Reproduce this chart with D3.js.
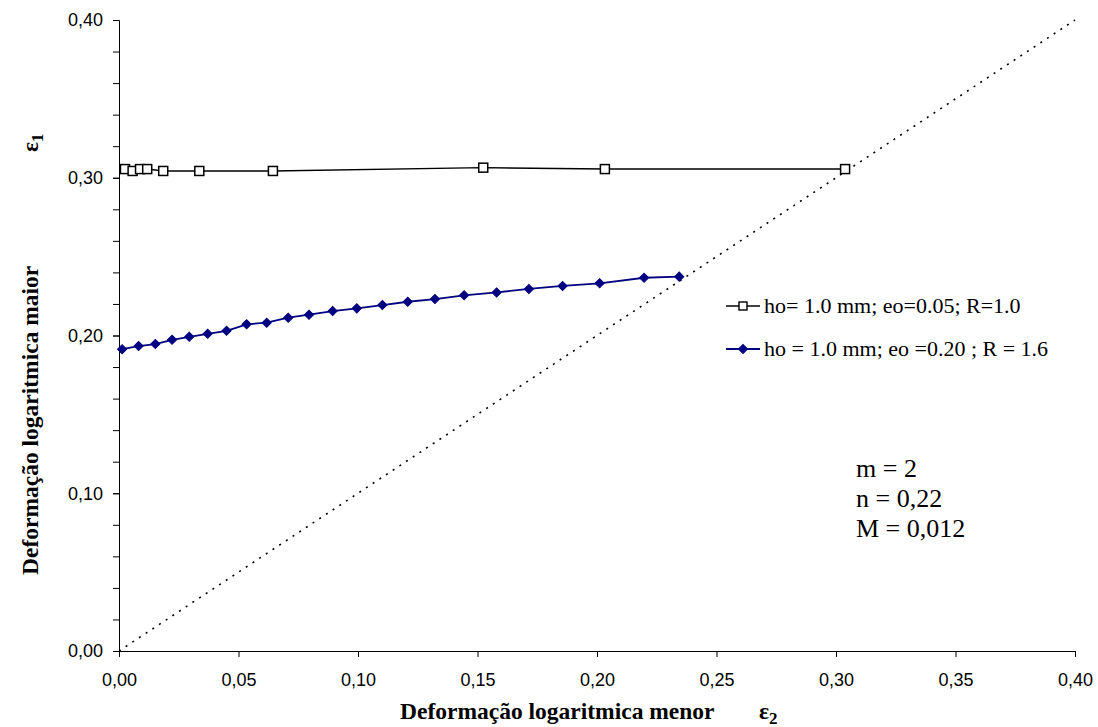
<!DOCTYPE html>
<html>
<head>
<meta charset="utf-8">
<script src="https://cdn.jsdelivr.net/npm/d3@7"></script>
<style>
  body { margin: 0; background: #fff; }
  svg { display: block; }
</style>
</head>
<body>
<svg id="chart" width="1098" height="727"></svg>
<script>
// Series 1: open squares (ho= 1.0 mm; eo=0.05; R=1.0)
const sqX = [0.0025, 0.0057, 0.0088, 0.0118, 0.0185, 0.0336, 0.0644, 0.1524, 0.2033, 0.3038];
const sqY = [0.3055, 0.3043, 0.3055, 0.3055, 0.3043, 0.3043, 0.3043, 0.3064, 0.3055, 0.3055];
// Series 2: filled diamonds (ho = 1.0 mm; eo =0.20 ; R = 1.6)
const dmX = [0.0013, 0.0082, 0.0152, 0.0222, 0.0294, 0.0371, 0.0450, 0.0534, 0.0618, 0.0708, 0.0795, 0.0894,
             0.0995, 0.1102, 0.1208, 0.1322, 0.1444, 0.1580, 0.1715, 0.1856, 0.2011, 0.2197, 0.2344];
const dmY = [0.1913, 0.1933, 0.1946, 0.1973, 0.1992, 0.2011, 0.2030, 0.2071, 0.2081, 0.2113, 0.2132, 0.2155,
             0.2172, 0.2193, 0.2214, 0.2231, 0.2255, 0.2273, 0.2295, 0.2314, 0.2331, 0.2366, 0.2373];
const diagX = [0, 0.40];
const diagY = [0, 0.40];
const xTicks = [0, 0.05, 0.10, 0.15, 0.20, 0.25, 0.30, 0.35, 0.40];
const yTicksMajor = [0, 0.10, 0.20, 0.30, 0.40];
const yTicksMinor = [0, 0.02, 0.04, 0.06, 0.08, 0.10, 0.12, 0.14, 0.16, 0.18, 0.20, 0.22, 0.24, 0.26, 0.28, 0.30, 0.32, 0.34, 0.36, 0.38, 0.40];
const legendLabels = ["ho= 1.0 mm; eo=0.05; R=1.0", "ho = 1.0 mm; eo =0.20 ; R = 1.6"];
const notes = ["m = 2", "n = 0,22", "M = 0,012"];

const svg = d3.select("#chart");
const x = d3.scaleLinear().domain([0, 0.40]).range([119, 1075]);
const y = d3.scaleLinear().domain([0, 0.40]).range([651, 20]);
const fmt = d => d3.format(".2f")(d).replace(".", ",");
const SANS = "Liberation Sans, Arial, sans-serif";
const SERIF = "Liberation Serif, Times New Roman, serif";

// X axis
const gx = svg.append("g").attr("transform", `translate(0,${y(0)})`)
  .call(d3.axisBottom(x).tickValues(xTicks).tickFormat(fmt).tickSizeOuter(0).tickSize(6).tickPadding(16));
gx.attr("font-size", null).attr("font-family", null);
gx.selectAll("text").style("font-family", SANS).style("font-size", "18px").attr("fill", "#000");
gx.selectAll("line, path").attr("stroke", "#000");

// Y axis minor
const gym = svg.append("g").attr("transform", `translate(${x(0)},0)`)
  .call(d3.axisLeft(y).tickValues(yTicksMinor).tickFormat("").tickSizeOuter(0).tickSize(6));
gym.selectAll("line, path").attr("stroke", "#000");
// Y axis major labels
const gy = svg.append("g").attr("transform", `translate(${x(0)},0)`)
  .call(d3.axisLeft(y).tickValues(yTicksMajor).tickFormat(fmt).tickSizeOuter(0).tickSize(6).tickPadding(10));
gy.attr("font-size", null).attr("font-family", null);
gy.select("path").remove();
gy.selectAll("line").attr("stroke", "#000");
gy.selectAll("text").style("font-family", SANS).style("font-size", "18px").attr("fill", "#000");

// Diagonal dotted
svg.append("line")
  .attr("x1", x(diagX[0])).attr("y1", y(diagY[0]))
  .attr("x2", x(diagX[1])).attr("y2", y(diagY[1]))
  .attr("stroke", "#000").attr("stroke-width", 1.6).attr("stroke-dasharray", "2,6");

const line = d3.line().x(d => x(d[0])).y(d => y(d[1]));
const sq = sqX.map((v, i) => [v, sqY[i]]);
const dm = dmX.map((v, i) => [v, dmY[i]]);

svg.append("path").datum(sq).attr("d", line).attr("fill", "none").attr("stroke", "#000").attr("stroke-width", 1.4);
svg.append("path").datum(dm).attr("d", line).attr("fill", "none").attr("stroke", "#000080").attr("stroke-width", 1.8);

const sqSize = 9;
svg.append("g").selectAll("rect").data(sq).join("rect")
  .attr("x", d => x(d[0]) - sqSize / 2).attr("y", d => y(d[1]) - sqSize / 2)
  .attr("width", sqSize).attr("height", sqSize)
  .attr("fill", "#fff").attr("stroke", "#000").attr("stroke-width", 1.5);

const dSym = d3.symbol().type(d3.symbolSquare).size(42);
svg.append("g").selectAll("path").data(dm).join("path")
  .attr("d", dSym)
  .attr("transform", d => `translate(${x(d[0])},${y(d[1])}) rotate(45)`)
  .attr("fill", "#000080").attr("stroke", "#000080").attr("stroke-width", 1);

// Legend
const lg = svg.append("g");
const ly = [306, 349];
lg.append("line").attr("x1", 726).attr("x2", 760).attr("y1", ly[0]).attr("y2", ly[0]).attr("stroke", "#000").attr("stroke-width", 1.4);
lg.append("rect").attr("x", 743 - 4).attr("y", ly[0] - 4).attr("width", 8).attr("height", 8).attr("fill", "#fff").attr("stroke", "#000").attr("stroke-width", 1.4);
lg.append("line").attr("x1", 726).attr("x2", 760).attr("y1", ly[1]).attr("y2", ly[1]).attr("stroke", "#000080").attr("stroke-width", 1.8);
lg.append("path").attr("d", dSym).attr("transform", `translate(743,${ly[1]}) rotate(45)`).attr("fill", "#000080").attr("stroke", "#000080");
lg.selectAll("text").data(legendLabels).join("text")
  .attr("x", 764).attr("y", (d, i) => ly[i] + 7)
  .style("font-family", SERIF).style("font-size", "22px").attr("fill", "#000")
  .text(d => d);

// Notes
svg.append("g").selectAll("text").data(notes).join("text")
  .attr("x", 856).attr("y", (d, i) => 477 + i * 30)
  .style("font-family", SERIF).style("font-size", "26px").attr("fill", "#000")
  .text(d => d);

// Axis titles
const titleStyle = sel => sel.style("font-family", SERIF).style("font-size", "23.5px").style("font-weight", "bold").attr("fill", "#000");
svg.append("text").attr("x", 400).attr("y", 719).call(titleStyle).text("Deformação logaritmica menor");
const xe = svg.append("text").attr("x", 759).attr("y", 719).call(titleStyle);
xe.append("tspan").text("ε");
xe.append("tspan").style("font-size", "17px").attr("dy", 5).text("2");

const yg = svg.append("g").attr("transform", "translate(38,0) rotate(-90)");
yg.append("text").attr("x", -575).attr("y", 0).call(titleStyle).text("Deformação logaritmica maior");
const ye = yg.append("text").attr("x", -152).attr("y", 0).call(titleStyle);
ye.append("tspan").text("ε");
ye.append("tspan").style("font-size", "17px").attr("dy", 5).text("1");
</script>
</body>
</html>
